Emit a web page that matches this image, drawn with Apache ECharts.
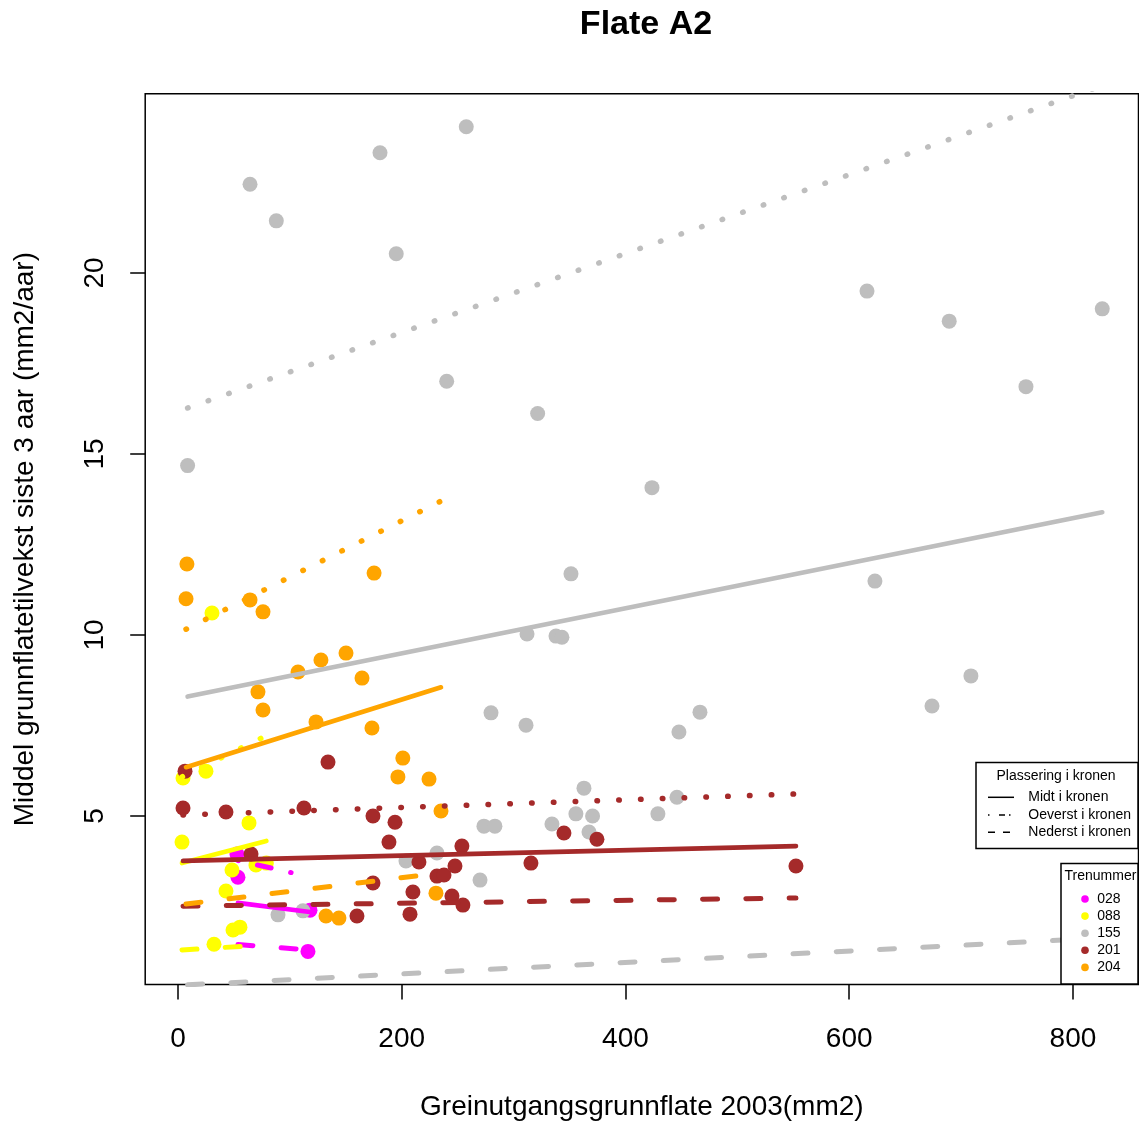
<!DOCTYPE html>
<html>
<head>
<meta charset="utf-8">
<title>Flate A2</title>
<script src="https://cdn.jsdelivr.net/npm/echarts@6/dist/echarts.min.js"></script>
<style>
  html, body { margin: 0; padding: 0; background: #fff; }
  #chart { width: 1139px; height: 1122px; }
</style>
</head>
<body>
<div id="chart"></div>
<script>
// Tree numbers and their colours
const trees = ['028', '088', '155', '201', '204'];
const treeColors = ['#FF00FF', '#FFFF00', '#BEBEBE', '#A52A2A', '#FFA500'];

// Branch base area 2003 (mm2) and mean basal area growth last 3 years (mm2/year), per tree
const x028 = [52.7, 53.6, 118.0, 116.2];
const y028 = [3.95, 3.31, 2.40, 1.26];

const x088 = [4.5, 25.0, 30.4, 63.5, 3.6, 48.3, 42.9, 49.2, 55.4, 32.2, 69.7, 79.0];
const y088 = [6.05, 6.24, 10.61, 4.81, 4.28, 3.51, 2.93, 1.85, 1.93, 1.46, 3.65, 3.70];

const x155 = [64.4, 87.9, 180.6, 195.1, 257.7, 240.2, 321.5, 8.6, 423.7, 351.3, 615.9, 689.4,
              758.0, 826.2, 623.0, 312.0, 337.9, 343.2, 674.0, 708.8, 279.8, 311.1, 466.6, 447.8,
              362.9, 355.7, 370.6, 367.4, 334.3, 273.5, 283.3, 429.0, 446.0, 231.5, 203.8, 270.0,
              89.4, 111.7];
const y155 = [22.45, 21.44, 23.32, 20.53, 24.04, 17.01, 16.12, 14.68, 14.07, 11.69, 19.50, 18.67,
              16.86, 19.01, 11.49, 10.03, 9.97, 9.94, 8.04, 8.87, 7.85, 7.51, 7.87, 7.32,
              5.77, 5.06, 5.00, 4.56, 4.78, 4.72, 4.72, 5.06, 5.52, 3.98, 3.76, 3.23,
              2.27, 2.38];

const x201 = [6.3, 4.5, 42.9, 112.6, 134.1, 65.3, 174.3, 194.0, 188.6, 253.8, 215.4, 247.6,
              174.3, 210.0, 207.4, 160.0, 231.5, 237.8, 244.9, 254.7, 345.0, 374.5, 315.5, 552.4];
const y201 = [6.24, 5.22, 5.11, 5.22, 6.49, 3.95, 5.00, 4.83, 4.28, 4.17, 3.73, 3.62,
              3.15, 2.90, 2.29, 2.24, 3.34, 3.37, 2.79, 2.54, 4.53, 4.36, 3.70, 3.62];

const x204 = [8.0, 7.2, 64.4, 76.0, 175.3, 107.3, 127.8, 150.2, 164.5, 71.5, 76.0, 123.4,
              173.4, 201.0, 196.6, 224.4, 235.1, 230.6, 143.9, 132.3];
const y204 = [11.96, 11.00, 10.97, 10.64, 11.71, 8.98, 9.31, 9.50, 8.81, 8.43, 7.93, 7.60,
              7.43, 6.60, 6.08, 6.02, 5.14, 2.87, 2.18, 2.24];

const xValues = [x028, x088, x155, x201, x204];
const yValues = [y028, y088, y155, y201, y204];

// Fitted lines per crown position, one entry per tree: [x start, y start, x end, y end]
const midtFit    = [[53.6, 2.60, 118.0, 2.35], [3.6, 3.70, 79.0, 4.31], [8.6, 8.30, 826.2, 13.39],
                    [4.5, 3.76, 552.4, 4.17], [7.2, 6.35, 235.1, 8.555]];
const oeverstFit = [[53.6, 3.77, 118.0, 3.32], [3.6, 6.08, 79.0, 7.22], [8.6, 16.27, 826.2, 25.18],
                    [4.5, 5.03, 552.4, 5.61], [7.2, 10.16, 235.1, 13.70]];
const nederstFit = [[53.6, 1.45, 118.0, 1.30], [3.6, 1.30, 79.0, 1.44], [8.6, 0.336, 826.2, 1.63],
                    [4.5, 2.51, 552.4, 2.735], [7.2, 2.57, 235.1, 3.43]];

const positionNames = ['Midt i kronen', 'Oeverst i kronen', 'Nederst i kronen'];

// Axis ticks
const xTicks = [0, 200, 400, 600, 800];
const yTicks = [5, 10, 15, 20];

const FONT = '"Liberation Sans", Arial, Helvetica, sans-serif';

const styleSolid   = { type: 'solid', width: 4.7, cap: 'round' };
const styleDotted  = { type: [0.5, 21.3], width: 5.5, cap: 'round' };
const styleDashed  = { type: [15, 28.3], width: 5, cap: 'round' };
const styleDotDash = { type: [0.5, 19.5, 14, 20], width: 5, cap: 'round' };

const series = [];

// points, one scatter series per tree
trees.forEach((t, i) => {
  series.push({
    name: t,
    type: 'scatter',
    silent: true,
    z: 2,
    symbol: 'circle',
    symbolSize: 15,
    itemStyle: { color: treeColors[i], opacity: 1 },
    data: xValues[i].map((x, j) => [x, yValues[i][j]])
  });
});

// fitted lines, drawn over the points
trees.forEach((t, i) => {
  const fits = [midtFit[i], oeverstFit[i], nederstFit[i]];
  const styles = [styleSolid, t === '028' ? styleDotDash : styleDotted, styleDashed];
  fits.forEach((f, k) => {
    series.push({
      name: t + ' ' + positionNames[k],
      type: 'line',
      silent: true,
      z: 3,
      symbol: 'none',
      clip: true,
      lineStyle: Object.assign({ color: treeColors[i] }, styles[k]),
      data: [[f[0], f[1]], [f[2], f[3]]]
    });
  });
});

// legends drawn as boxed keys inside the plot
const legendFont = 14;
const graphic = [];
graphic.push({
  type: 'rect', z: 100,
  shape: { x: 976, y: 762.5, width: 162, height: 86 },
  style: { fill: '#fff', stroke: '#000', lineWidth: 1.5 }
});
graphic.push({
  type: 'text', z: 101, x: 996.5, y: 775.7,
  style: { text: 'Plassering i kronen', fill: '#000', font: legendFont + 'px ' + FONT, verticalAlign: 'middle' }
});
const legendDash = [null, [1.5, 9.5, 6, 4], [7, 8]];
positionNames.forEach((p, k) => {
  const y = [797.3, 815, 832.3][k];
  graphic.push({
    type: 'line', z: 101,
    shape: { x1: 988, y1: y, x2: 1014, y2: y },
    style: { stroke: '#000', lineWidth: 1.5, lineDash: legendDash[k] }
  });
  graphic.push({
    type: 'text', z: 101, x: 1028.3, y: y,
    style: { text: p, fill: '#000', font: legendFont + 'px ' + FONT, verticalAlign: 'middle' }
  });
});

graphic.push({
  type: 'rect', z: 100,
  shape: { x: 1061, y: 863.5, width: 77, height: 120.5 },
  style: { fill: '#fff', stroke: '#000', lineWidth: 1.5 }
});
graphic.push({
  type: 'text', z: 101, x: 1064.5, y: 875.7,
  style: { text: 'Trenummer', fill: '#000', font: legendFont + 'px ' + FONT, verticalAlign: 'middle' }
});
trees.forEach((t, i) => {
  const y = 899 + i * 17.1;
  graphic.push({
    type: 'circle', z: 101,
    shape: { cx: 1085, cy: y, r: 3.8 },
    style: { fill: treeColors[i] }
  });
  graphic.push({
    type: 'text', z: 101, x: 1097.3, y: y,
    style: { text: t, fill: '#000', font: legendFont + 'px ' + FONT, verticalAlign: 'middle' }
  });
});

const chart = echarts.init(document.getElementById('chart'), null, { renderer: 'canvas' });
chart.setOption({
  animation: false,
  backgroundColor: '#fff',
  textStyle: { fontFamily: FONT },
  title: {
    text: 'Flate A2',
    left: 641,
    top: 3,
    textAlign: 'center',
    textStyle: { fontSize: 34, fontWeight: 'bold', color: '#000', fontFamily: FONT }
  },
  grid: {
    left: 145.2, top: 93.8, width: 993.3, height: 890.6,
    containLabel: false,
    outerBoundsMode: 'none',
    show: true, borderColor: '#000', borderWidth: 1.5, backgroundColor: 'transparent'
  },
  xAxis: {
    type: 'value',
    min: -29.3, max: 858.6,
    name: 'Greinutgangsgrunnflate 2003(mm2)',
    nameLocation: 'middle',
    nameGap: 109,
    nameTextStyle: { fontSize: 28, color: '#000', fontFamily: FONT },
    axisLine: { show: false, onZero: false },
    splitLine: { show: false },
    axisTick: { show: true, inside: false, length: 15, customValues: xTicks, lineStyle: { color: '#000', width: 1.5 } },
    axisLabel: { customValues: xTicks, margin: 41, fontSize: 28, color: '#000', fontFamily: FONT }
  },
  yAxis: {
    type: 'value',
    min: 0.349, max: 24.95,
    name: 'Middel grunnflatetilvekst siste 3 aar (mm2/aar)',
    nameLocation: 'middle',
    nameGap: 106,
    nameRotate: 90,
    nameTextStyle: { fontSize: 28, color: '#000', fontFamily: FONT },
    axisLine: { show: false, onZero: false },
    splitLine: { show: false },
    axisTick: { show: true, inside: false, length: 15, customValues: yTicks, lineStyle: { color: '#000', width: 1.5 } },
    axisLabel: { customValues: yTicks, rotate: 90, margin: 36, fontSize: 28, color: '#000', fontFamily: FONT }
  },
  series: series,
  graphic: graphic
});
</script>
</body>
</html>
